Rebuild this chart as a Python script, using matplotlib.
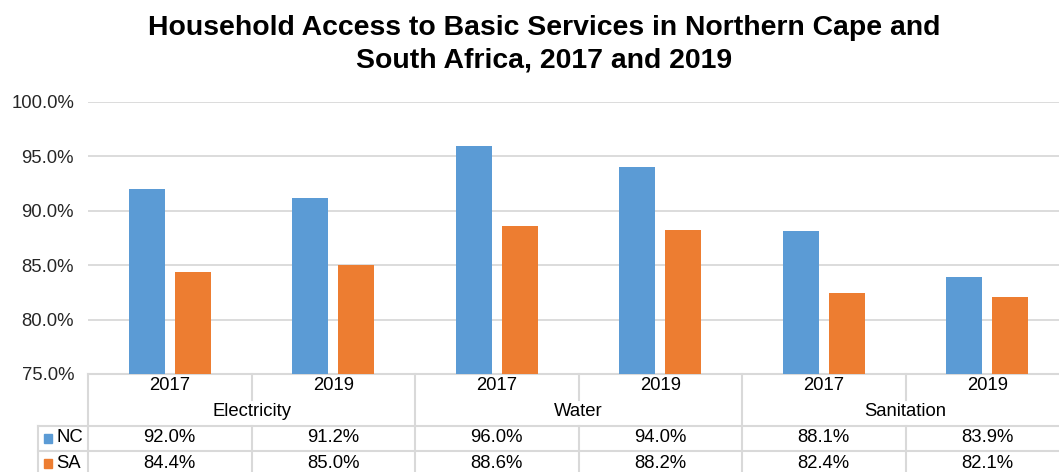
import matplotlib.pyplot as plt
from matplotlib.transforms import blended_transform_factory

plt.rcParams["font.family"] = ["Liberation Sans", "DejaVu Sans"]

services = ["Electricity", "Water", "Sanitation"]
years = ["2017", "2019"]
nc = [92.0, 91.2, 96.0, 94.0, 88.1, 83.9]
sa = [84.4, 85.0, 88.6, 88.2, 82.4, 82.1]
series = [("NC", nc, "#5B9BD5"), ("SA", sa, "#ED7D31")]

W, H = 1059, 472
fig = plt.figure(figsize=(W / 100, H / 100), dpi=100)
slot = 163.5
ax = fig.add_axes([88 / W, 1 - 374 / H, 6 * slot / W, (374 - 102) / H])

n = len(nc)
xs = list(range(n))
bw = 36 / slot
off = 23 / slot
ax.bar([x - off for x in xs], nc, width=bw, bottom=0, color="#5B9BD5", zorder=3)
ax.bar([x + off for x in xs], sa, width=bw, bottom=0, color="#ED7D31", zorder=3)

ax.set_xlim(-0.5, n - 0.5)
ax.set_ylim(75, 100)
ax.set_yticks([75, 80, 85, 90, 95, 100])
ax.set_yticklabels([f"{v:.1f}%" for v in [75, 80, 85, 90, 95, 100]], fontsize=13.3)
ax.tick_params(axis="y", length=0, pad=10, colors="#262626")
ax.tick_params(axis="x", length=0, labelbottom=False)
ax.grid(axis="y", color="#D9D9D9", linewidth=1.3, zorder=0)
for s in ["top", "right", "left"]:
    ax.spines[s].set_visible(False)
ax.spines["bottom"].set_color("#D9D9D9")
ax.spines["bottom"].set_linewidth(1.5)

fig.suptitle("Household Access to Basic Services in Northern Cape and\nSouth Africa, 2017 and 2019",
             x=544 / W, y=1 - 15 / H, va="top", fontsize=20.4, fontweight="bold",
             linespacing=1.3)

# data table under the plot: x in data units, y in pixels from top
tr = blended_transform_factory(ax.transData, fig.transFigure)
py = lambda p: 1 - p / H
left_x = -0.5 - (88 - 38) / slot
lc = "#D9D9D9"
lw = 1.5

def hline(x0, x1, p):
    ax.plot([x0, x1], [py(p), py(p)], transform=tr, color=lc, lw=lw, clip_on=False)

def vline(x, p0, p1):
    ax.plot([x, x], [py(p0), py(p1)], transform=tr, color=lc, lw=lw, clip_on=False)

hline(left_x, n - 0.5, 426)
hline(left_x, n - 0.5, 451)
hline(left_x, n - 0.5, 476)
vline(left_x, 426, 476)
vline(-0.5, 374, 476)
for g in range(len(services)):
    vline(2 * g + 1.5, 374, 476)
    vline(2 * g + 0.5, 374, 400)
    vline(2 * g + 0.5, 426, 476)

fs = 13.3
for i in range(n):
    ax.text(i, py(386), years[i % 2], transform=tr, ha="center", va="center",
            fontsize=fs, color="#000000")
for g, name in enumerate(services):
    ax.text(2 * g + 0.5, py(412), name, transform=tr, ha="center", va="center",
            fontsize=fs, color="#000000")

for r, (label, vals, color) in enumerate(series):
    yp = 438 + 25 * r
    for i, v in enumerate(vals):
        ax.text(i, py(yp), f"{v:.1f}%", transform=tr, ha="center", va="center",
                fontsize=fs, color="#000000")
    ax.add_patch(plt.Rectangle((left_x + 6 / slot, py(yp + 5)), 8 / slot, 9 / H,
                               transform=tr, color=color, clip_on=False))
    ax.text(left_x + 18 / slot, py(yp), label, transform=tr, ha="left", va="center",
            fontsize=fs, color="#000000")

fig.savefig("out.png", dpi=100)
